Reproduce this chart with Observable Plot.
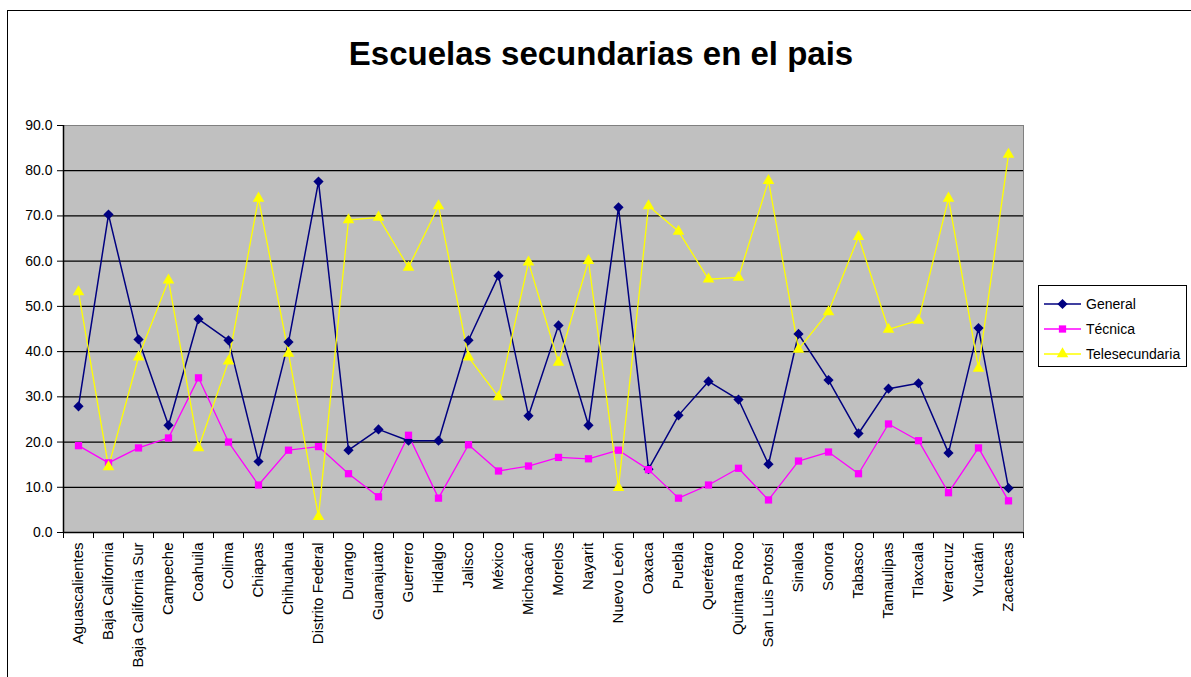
<!DOCTYPE html>
<html>
<head>
<meta charset="utf-8">
<script src="https://cdn.jsdelivr.net/npm/d3@7"></script>
<script src="https://cdn.jsdelivr.net/npm/@observablehq/plot@0.6"></script>
<style>
  html, body { margin: 0; padding: 0; background: #fff; }
  #wrap { position: relative; width: 1191px; height: 677px; overflow: hidden; font-family: Arial, "Liberation Sans", sans-serif; }
  #border { position: absolute; left: 7px; top: 10px; width: 1200px; height: 700px; border: 1px solid #000; box-sizing: border-box; }
  #title { position: absolute; left: 0; width: 1202px; top: 35px; text-align: center; font-weight: bold; font-size: 33px; color: #000; }
  #chart { position: absolute; left: 0; top: 0; }
  #legend { position: absolute; left: 1038px; top: 285px; width: 149px; height: 82px; border: 1px solid #000; box-sizing: border-box; background: #fff; }
</style>
</head>
<body>
<div id="wrap">
  <div id="border"></div>
  <div id="chart"></div>
  <div id="title">Escuelas secundarias en el pais</div>
  <div id="legend"></div>
</div>
<script>
const states = ["Aguascalientes","Baja California","Baja California Sur","Campeche","Coahuila","Colima","Chiapas","Chihuahua","Distrito Federal","Durango","Guanajuato","Guerrero","Hidalgo","Jalisco","México","Michoacán","Morelos","Nayarit","Nuevo León","Oaxaca","Puebla","Querétaro","Quintana Roo","San Luis Potosí","Sinaloa","Sonora","Tabasco","Tamaulipas","Tlaxcala","Veracruz","Yucatán","Zacatecas"];
const general = [27.9,70.3,42.7,23.7,47.2,42.5,15.7,42.1,77.6,18.2,22.8,20.3,20.3,42.5,56.8,25.8,45.8,23.7,71.9,14.0,25.9,33.4,29.4,15.1,43.9,33.7,21.9,31.8,33.0,17.6,45.2,9.8];
const tecnica = [19.2,15.4,18.7,20.9,34.2,20.0,10.5,18.2,19.0,13.0,7.9,21.5,7.6,19.4,13.6,14.7,16.6,16.3,18.2,13.9,7.6,10.5,14.2,7.2,15.8,17.8,13.0,24.0,20.3,8.8,18.7,7.0];
const telesecundaria = [53.2,14.5,38.8,55.8,18.7,37.9,73.9,39.6,3.5,69.1,69.7,58.6,72.2,38.8,30.0,59.8,37.6,60.1,9.9,72.2,66.6,56.0,56.4,77.8,40.5,48.8,65.4,44.9,46.9,73.9,36.3,83.6];
const seriesNames = ["General","Técnica","Telesecundaria"];
const seriesColors = ["#000080","#ff00ff","#ffff00"];
const seriesSymbols = ["diamond2","square","triangle"];
const yTicks = [0,10,20,30,40,50,60,70,80,90];
const gridTicks = [10,20,30,40,50,60,70,80];

const seriesValues = [general, tecnica, telesecundaria];
const table = [];
seriesValues.forEach((vals, s) => {
  vals.forEach((v, i) => table.push({series: seriesNames[s], pos: i + 0.5, value: v}));
});
const labelTable = states.map((s, i) => ({state: s, pos: i + 0.5}));
const boundaries = d3.range(states.length + 1);
const symR = [4.6, 4.1, 4.3];

const marks = [
  Plot.frame({fill: "#c0c0c0", stroke: "#808080"}),
  Plot.ruleY(gridTicks, {stroke: "#000", strokeWidth: 1.2}),
  Plot.axisY({ticks: yTicks, tickFormat: d => d.toFixed(1), tickSize: 6, tickPadding: 5, fontSize: 14, label: null, stroke: "#000"}),
  Plot.axisX({ticks: boundaries, tickFormat: () => "", tickSize: 6, label: null}),
  Plot.ruleX([0], {stroke: "#000", strokeWidth: 1.5}),
  Plot.ruleY([0], {stroke: "#000", strokeWidth: 1.5}),
  Plot.text(labelTable, {x: "pos", y: () => 0, text: "state", rotate: -90, textAnchor: "end", lineAnchor: "middle", dy: 10, fontSize: 15, fill: "#000"})
];
seriesNames.forEach((name, s) => {
  const d = table.filter(r => r.series === name);
  marks.push(Plot.line(d, {x: "pos", y: "value", stroke: seriesColors[s], strokeWidth: s === 0 ? 1.5 : 1.3}));
});
seriesNames.forEach((name, s) => {
  const d = table.filter(r => r.series === name);
  marks.push(Plot.dot(d, {x: "pos", y: "value", symbol: () => seriesSymbols[s], fill: seriesColors[s], stroke: "none", r: symR[s]}));
});

const chart = Plot.plot({
  width: 1191,
  height: 677,
  marginLeft: 63,
  marginRight: 168,
  marginTop: 125,
  marginBottom: 145,
  x: {type: "linear", domain: [0, states.length]},
  y: {domain: [0, 90]},
  symbol: {type: "identity"},
  style: {background: "transparent", fontFamily: "Arial, 'Liberation Sans', sans-serif", color: "#000"},
  marks
});
document.getElementById("chart").appendChild(chart);

// Legend
const lg = d3.select("#legend").append("svg").attr("width", 147).attr("height", 80);
seriesNames.forEach((name, s) => {
  const y = 18 + s * 25;
  lg.append("line").attr("x1", 5).attr("x2", 42).attr("y1", y).attr("y2", y).attr("stroke", seriesColors[s]).attr("stroke-width", 1.5);
  const sym = [d3.symbolDiamond2, d3.symbolSquare, d3.symbolTriangle][s];
  lg.append("path").attr("d", d3.symbol(sym, Math.PI * symR[s] * symR[s])()).attr("transform", `translate(23.5,${y})`).attr("fill", seriesColors[s]);
  lg.append("text").attr("x", 47).attr("y", y).attr("dy", "0.35em").attr("font-size", 14).attr("font-family", "Arial, 'Liberation Sans', sans-serif").text(name);
});
</script>
</body>
</html>
